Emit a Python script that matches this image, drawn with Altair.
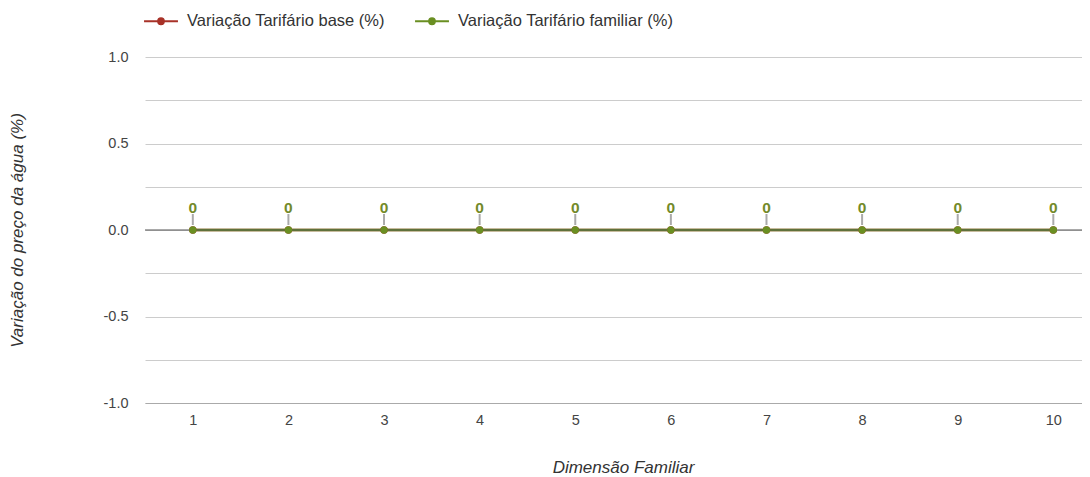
import altair as alt
import pandas as pd

dimensao = [1, 2, 3, 4, 5, 6, 7, 8, 9, 10]
var_base = [0, 0, 0, 0, 0, 0, 0, 0, 0, 0]
var_familiar = [0, 0, 0, 0, 0, 0, 0, 0, 0, 0]
serie_base = "Variação Tarifário base (%)"
serie_familiar = "Variação Tarifário familiar (%)"
y_ticks = [-1.0, -0.75, -0.5, -0.25, 0.0, 0.25, 0.5, 0.75, 1.0]

df = pd.DataFrame(
    [{"d": d, "v": v, "serie": serie_base, "o": 0} for d, v in zip(dimensao, var_base)]
    + [{"d": d, "v": v, "serie": serie_familiar, "o": 1} for d, v in zip(dimensao, var_familiar)]
)
df_fam = df[df["serie"] == serie_familiar].copy()
df_zero = pd.DataFrame({"v": [0.0]})

FONT = "Liberation Sans"
RED = "#a83228"
GREEN = "#6a8f22"

xscale = alt.Scale(domain=[0.5, 10.3], nice=False, zero=False)
yscale = alt.Scale(domain=[-1, 1], nice=False)

color = alt.Color(
    "serie:N",
    scale=alt.Scale(domain=[serie_base, serie_familiar], range=[RED, GREEN]),
    legend=alt.Legend(
        title=None,
        orient="none",
        legendX=-2,
        legendY=-54,
        direction="horizontal",
        columns=2,
        columnPadding=26,
        symbolType="M-1,0L1,0M-0.17,0A0.17,0.17 0 1,1 0.17,0A0.17,0.17 0 1,1 -0.17,0Z",
        symbolSize=1150,
        symbolStrokeWidth=2,
        labelFont=FONT,
        labelFontSize=16.5,
        labelColor="#333333",
        labelOffset=8,
        labelLimit=400,
    ),
)

base = alt.Chart(df)

x_enc = alt.X(
    "d:Q",
    scale=xscale,
    axis=alt.Axis(
        values=dimensao,
        format="d",
        title="Dimensão Familiar",
        titleFontStyle="italic",
        titleFontWeight="normal",
        titleFont=FONT,
        titleFontSize=17,
        titleColor="#333333",
        titlePadding=33,
        titleX=478,
        titleAlign="center",
        labelFont=FONT,
        labelFontSize=14.5,
        labelColor="#444444",
        labelPadding=10,
        ticks=False,
        grid=False,
        domain=True,
        domainColor="#aaaaaa",
        domainWidth=1,
    ),
)
y_enc = alt.Y(
    "v:Q",
    scale=yscale,
    axis=alt.Axis(
        values=y_ticks,
        labelExpr="(abs(datum.value*2 - round(datum.value*2)) < 0.001) ? replace(format(datum.value, '.1f'), '\u2212', '-') : ''",
        title="Variação do preço da água (%)",
        titleFontStyle="italic",
        titleFontWeight="normal",
        titleFont=FONT,
        titleFontSize=17,
        titleColor="#333333",
        titleX=-119,
        titleY=173,
        labelFont=FONT,
        labelFontSize=14.5,
        labelColor="#444444",
        labelPadding=17,
        ticks=False,
        domain=False,
        grid=True,
        gridColor="#cccccc",
        gridWidth=1,
    ),
)

zero_rule = alt.Chart(df_zero).mark_rule(color="#555555", strokeWidth=1.2).encode(
    y=alt.Y("v:Q", scale=yscale)
)

lines = base.mark_line(strokeWidth=2.5).encode(
    x=x_enc, y=y_enc, color=color, order="o:Q", detail="serie:N"
)
points = base.mark_point(filled=True, size=55, opacity=1).encode(
    x=alt.X("d:Q", scale=xscale), y=alt.Y("v:Q", scale=yscale), color=alt.Color("serie:N", legend=None,
        scale=alt.Scale(domain=[serie_base, serie_familiar], range=[RED, GREEN]))
)

connectors = alt.Chart(df_fam).mark_rule(color="#aaaaaa", strokeWidth=2, yOffset=-16, y2Offset=-5).encode(
    x=alt.X("d:Q", scale=xscale), y=alt.Y("v:Q", scale=yscale), y2="v:Q"
)
labels = alt.Chart(df_fam).mark_text(
    color="#738a2a", font=FONT, fontSize=15.5, fontWeight="bold", dy=-22, baseline="middle"
).encode(
    x=alt.X("d:Q", scale=xscale), y=alt.Y("v:Q", scale=yscale), text=alt.Text("v:Q", format="d")
)

chart = alt.layer(lines, zero_rule, connectors, points, labels).properties(
    width=937,
    height=346,
    autosize=alt.AutoSizeParams(type="none"),
    padding={"left": 137, "top": 49, "right": 0, "bottom": 78},
).configure_view(stroke=None)

chart.save("out.html", embed_options={"renderer": "svg", "actions": False})
